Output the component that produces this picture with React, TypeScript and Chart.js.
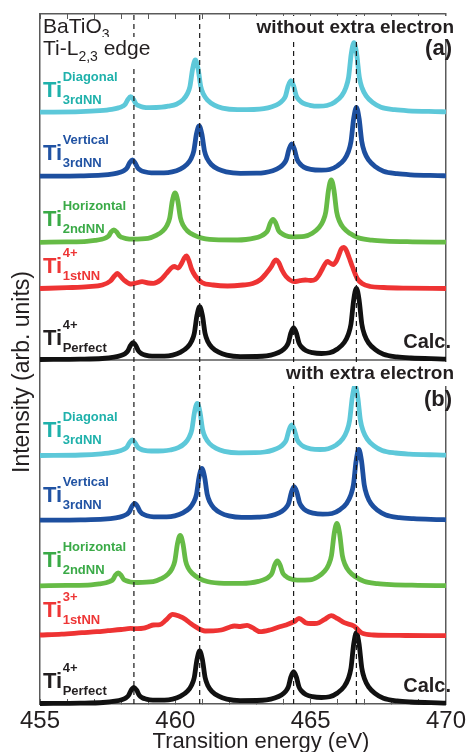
import React, { useEffect, useRef } from "react";
import { Chart, registerables } from "chart.js";

Chart.register(...registerables);

// ---------- data ----------
const xMin = 455;
const xMax = 470;
const xTickLabels = [455, 460, 465, 470];
const dashEnergies = [458.47, 460.9, 464.37, 466.69];
const panelSeparator = 344;
const yMax = 690;

// each series: [energy (eV), intensity above its own baseline]
const cyanA: [number, number][] = [
  [455, 0.5], [456.5, 1], [457.21, 2], [457.65, 3.3], [457.9, 4.8], [458.05, 6.4], [458.15, 8.5], [458.25, 13.4], [458.35, 16],
  [458.45, 13.4], [458.55, 8.7], [458.65, 7], [458.8, 5.6], [459.05, 5], [459.5, 5.5], [459.74, 6.5],
  [460.04, 8.5], [460.29, 13], [460.44, 18.8], [460.54, 26.3], [460.64, 44], [460.74, 52.7], [460.84, 44], [460.94, 26.3],
  [461.04, 18.4], [461.19, 12.5], [461.44, 7.5], [461.74, 4.5],
  [462.3, 3], [462.9, 3.2], [463.27, 4],
  [463.57, 6], [463.82, 8.9], [463.97, 12.4], [464.07, 16.6], [464.17, 26.8], [464.27, 32], [464.37, 26.8], [464.47, 16.8],
  [464.57, 12.8], [464.72, 9.6], [464.97, 7.4],
  [465.3, 6.5], [465.6, 7.2],
  [465.9, 10.8], [466.15, 17.1], [466.3, 25], [466.4, 35.2], [466.5, 58.8], [466.6, 70], [466.7, 58.8], [466.8, 35.2],
  [466.9, 24.8], [467.05, 16.8], [467.3, 10], [467.6, 5.4], [468.1, 3], [468.6, 1.9], [469.6, 1.1], [470, 0.9],
];
const blueA: [number, number][] = [
  [455, 0.5], [456.5, 0.8], [457.27, 1.5], [457.71, 2.8], [457.96, 4.4], [458.11, 6.2], [458.21, 8.6], [458.31, 13.9], [458.41, 16.7],
  [458.51, 13.9], [458.61, 8.8], [458.71, 6.5], [458.86, 4.9], [459.11, 3.9], [459.58, 3.9], [459.88, 4.8],
  [460.18, 7.6], [460.43, 12.3], [460.58, 18], [460.68, 25.4], [460.78, 42.6], [460.88, 50.7], [460.98, 42.6], [461.08, 25.4],
  [461.18, 17.9], [461.33, 12.2], [461.58, 7.5], [461.88, 4.8],
  [462.4, 3.4], [463.0, 3.5], [463.3, 4.1],
  [463.6, 6], [463.85, 9.1], [464.0, 12.7], [464.1, 17], [464.2, 27.4], [464.3, 32.7], [464.4, 27.4], [464.5, 17.3],
  [464.6, 13.1], [464.75, 9.6], [465.0, 7.3],
  [465.4, 6.5], [465.7, 7.2],
  [465.99, 10.8], [466.24, 17.1], [466.39, 24.8], [466.49, 35], [466.59, 58.3], [466.69, 69.4], [466.79, 58.3], [466.89, 35],
  [466.99, 24.6], [467.14, 16.8], [467.39, 10.1], [467.69, 5.5], [468.19, 3], [468.7, 1.9], [469.7, 1.1], [470, 0.9],
];
const greenA: [number, number][] = [
  [455, 0.5], [456, 0.9], [456.73, 1.5], [457.03, 2.4], [457.28, 3.6], [457.43, 5], [457.53, 6.6], [457.63, 10.9], [457.73, 13],
  [457.83, 10.9], [457.93, 6.9], [458.03, 5.4], [458.18, 4.2], [458.43, 3.6], [458.99, 4.4],
  [459.29, 7.4], [459.54, 11.9], [459.69, 17.3], [459.79, 24.5], [459.89, 42], [459.99, 50], [460.09, 42], [460.19, 24.8],
  [460.29, 17.5], [460.44, 12.1], [460.69, 7.6], [460.99, 4.6],
  [461.6, 2.9], [462.3, 2.8], [462.61, 3.3],
  [462.91, 4.6], [463.16, 6.7], [463.31, 9.2], [463.41, 12.2], [463.51, 19.8], [463.61, 23.5], [463.71, 19.8], [463.81, 12.5],
  [463.91, 9.7], [464.06, 7.4], [464.31, 6],
  [464.76, 6.4],
  [465.06, 9.6], [465.31, 15.2], [465.46, 22], [465.56, 31], [465.66, 52.8], [465.76, 63], [465.86, 52.8], [465.96, 31],
  [466.06, 21.8], [466.21, 15], [466.46, 9.2], [466.76, 5], [467.26, 2.7], [467.76, 1.7], [468.76, 1], [470, 0.6],
];
const redA: [number, number][] = [
  [455, 0], [456, 0.8], [456.8, 1.8], [457.3, 3.5], [457.6, 7.5], [457.75, 12.5], [457.85, 15], [457.95, 13], [458.1, 8.5],
  [458.35, 4.5], [458.55, 5.5], [458.77, 6.8], [459.0, 5.5], [459.19, 5.2], [459.45, 8.5], [459.67, 15], [459.85, 20.5],
  [459.96, 22], [460.1, 20.5], [460.24, 25.5], [460.33, 30.5], [460.41, 32.5], [460.5, 28], [460.6, 19.5], [460.74, 12.5],
  [460.98, 6], [461.4, 3.5], [461.93, 2.5], [462.5, 3.5], [462.86, 5], [463.15, 9], [463.34, 14.5], [463.55, 22], [463.65, 27],
  [463.73, 28.5], [463.82, 26], [463.95, 18], [464.09, 12], [464.39, 7], [464.6, 7.8], [464.81, 8.5], [465.0, 8],
  [465.17, 9], [465.3, 13], [465.41, 18.5], [465.52, 24], [465.62, 27], [465.72, 25.5], [465.83, 24], [465.95, 27.5],
  [466.05, 34], [466.13, 39.5], [466.22, 41], [466.31, 38.5], [466.42, 31], [466.54, 22], [466.72, 10], [466.9, 5],
  [467.2, 2], [467.7, 1], [468.5, 0.4], [470, 0],
];
const blackA: [number, number][] = [
  [455, 0.5], [456.5, 0.8], [457.3, 1.5], [457.74, 2.8], [457.99, 4.4], [458.14, 6.3], [458.24, 8.8], [458.34, 14.4], [458.44, 17.3],
  [458.54, 14.4], [458.64, 9], [458.74, 6.6], [458.89, 4.9], [459.14, 3.9], [459.6, 3.9], [459.9, 4.9],
  [460.2, 7.9], [460.45, 12.8], [460.6, 18.8], [460.7, 26.5], [460.8, 44.7], [460.9, 53.3], [461.0, 44.7], [461.1, 26.5],
  [461.2, 18.6], [461.35, 12.7], [461.6, 7.8], [461.9, 4.9],
  [462.4, 3.4], [463.0, 3.5], [463.37, 4.1],
  [463.67, 6], [463.92, 9], [464.07, 12.5], [464.17, 16.8], [464.27, 27.1], [464.37, 32.3], [464.47, 27.1], [464.57, 17],
  [464.67, 12.9], [464.82, 9.5], [465.07, 7.3],
  [465.4, 6.5], [465.7, 7.2],
  [465.99, 11], [466.24, 17.5], [466.39, 25.5], [466.49, 36], [466.59, 60.2], [466.69, 71.7], [466.79, 60.2], [466.89, 36],
  [466.99, 25.3], [467.14, 17.2], [467.39, 10.4], [467.69, 5.7], [468.19, 3.1], [468.7, 2], [469.7, 1.1], [470, 0.9],
];
const cyanB: [number, number][] = [
  [455, 0.5], [456.5, 1], [457.27, 2.2], [457.71, 3.6], [457.96, 5.2], [458.11, 6.8], [458.21, 8.8], [458.31, 13.4], [458.41, 16],
  [458.51, 13.4], [458.61, 8.9], [458.71, 7], [458.86, 5.6], [459.11, 5], [459.55, 5.2], [459.81, 6],
  [460.11, 8.3], [460.36, 13], [460.51, 18.8], [460.61, 26.3], [460.71, 44], [460.81, 52.7], [460.91, 44], [461.01, 26.2],
  [461.11, 18.4], [461.26, 12.5], [461.51, 7.6], [461.81, 4.7],
  [462.35, 3.2], [462.95, 3.3], [463.3, 4],
  [463.6, 5.9], [463.85, 8.8], [464.0, 12.1], [464.1, 16.2], [464.2, 26], [464.3, 31], [464.4, 26], [464.5, 16.4],
  [464.6, 12.5], [464.75, 9.3], [465.0, 7.2],
  [465.35, 6.5], [465.65, 7.3],
  [465.94, 10.9], [466.19, 17.3], [466.34, 25.2], [466.44, 35.6], [466.54, 59], [466.64, 70.3], [466.74, 59], [466.84, 35.5],
  [466.94, 25], [467.09, 16.9], [467.34, 10.2], [467.64, 5.6], [468.14, 3], [468.65, 1.9], [469.65, 1.1], [470, 0.9],
];
const blueB: [number, number][] = [
  [455, 0.5], [456.5, 0.8], [457.36, 1.5], [457.8, 2.8], [458.05, 4.4], [458.2, 6.3], [458.3, 8.8], [458.4, 14.4], [458.5, 17.3],
  [458.6, 14.4], [458.7, 9], [458.8, 6.6], [458.95, 4.9], [459.2, 3.9], [459.68, 3.9], [459.98, 4.9],
  [460.28, 7.9], [460.53, 12.7], [460.68, 18.6], [460.78, 26.2], [460.88, 43.9], [460.98, 52.3], [461.08, 43.9], [461.18, 26.2],
  [461.28, 18.4], [461.43, 12.6], [461.68, 7.7], [461.98, 4.9],
  [462.45, 3.4], [463.05, 3.6], [463.39, 4.2],
  [463.69, 6.2], [463.94, 9.4], [464.09, 13.1], [464.19, 17.6], [464.29, 28.5], [464.39, 34], [464.49, 28.5], [464.59, 17.9],
  [464.69, 13.5], [464.84, 9.9], [465.09, 7.5],
  [465.45, 6.5], [465.79, 7.2],
  [466.08, 11], [466.33, 17.4], [466.48, 25.4], [466.58, 35.8], [466.68, 59.9], [466.78, 71.3], [466.88, 59.9], [466.98, 35.8],
  [467.08, 25.2], [467.23, 17.1], [467.48, 10.3], [467.78, 5.7], [468.28, 3.1], [468.8, 2], [469.8, 1.1], [470, 0.9],
];
const greenB: [number, number][] = [
  [455, 0.5], [456, 0.9], [456.89, 1.5], [457.19, 2.4], [457.44, 3.6], [457.59, 5], [457.69, 6.7], [457.79, 11.2], [457.89, 13.3],
  [457.99, 11.2], [458.09, 7], [458.19, 5.5], [458.34, 4.3], [458.6, 3.8], [459.18, 4.6],
  [459.48, 7.6], [459.73, 12.2], [459.88, 17.7], [459.98, 25], [460.08, 42.8], [460.18, 51], [460.28, 42.8], [460.38, 25.4],
  [460.48, 18], [460.63, 12.8], [460.88, 8], [461.18, 4.8],
  [461.8, 3], [462.47, 2.9], [462.77, 3.4],
  [463.07, 4.9], [463.32, 7.1], [463.47, 9.8], [463.57, 13], [463.67, 21.3], [463.77, 25.3], [463.87, 21.3], [463.97, 13.3],
  [464.07, 10.3], [464.22, 7.8], [464.5, 6.2],
  [464.97, 6.4],
  [465.27, 9.6], [465.52, 15.2], [465.67, 22], [465.77, 31], [465.87, 52.8], [465.97, 63], [466.07, 52.8], [466.17, 31],
  [466.27, 21.8], [466.42, 15], [466.67, 9.2], [466.97, 5], [467.47, 2.7], [467.97, 1.7], [468.97, 1], [470, 0.6],
];
const redB: [number, number][] = [
  [455, 0.7], [455.8, 1.5], [456.55, 3], [457.1, 4], [457.51, 5], [458.0, 6.2], [458.35, 7.3], [458.6, 7], [458.83, 7.5],
  [459.0, 9], [459.19, 10.7], [459.43, 11], [459.65, 15.5], [459.9, 21.3], [460.15, 19.5], [460.38, 16.3], [460.55, 12.5],
  [460.74, 9], [461.1, 4.7], [461.4, 4.8], [461.7, 5.7], [462.0, 8.5], [462.18, 9.7], [462.4, 9.2], [462.65, 10.3],
  [462.85, 8], [463.13, 4], [463.49, 5.7], [463.8, 8.5], [464.09, 10.7], [464.39, 14], [464.57, 17.4], [464.81, 13],
  [465.0, 12.2], [465.23, 12.4], [465.5, 16], [465.76, 20], [466.0, 17], [466.24, 13], [466.6, 9.7], [466.75, 6],
  [466.9, 2.5], [467.32, 0.7], [468.5, 0.2], [470, 0],
];
const blackB: [number, number][] = [
  [455, 0.5], [456.5, 0.8], [457.33, 1.5], [457.77, 2.8], [458.02, 4.3], [458.17, 6.1], [458.27, 8.5], [458.37, 13.9], [458.47, 16.7],
  [458.57, 13.9], [458.67, 8.7], [458.77, 6.4], [458.92, 4.9], [459.17, 3.9], [459.6, 3.9], [459.9, 4.9],
  [460.2, 7.9], [460.45, 12.8], [460.6, 18.8], [460.7, 26.5], [460.8, 44.5], [460.9, 53], [461.0, 44.5], [461.1, 26.5],
  [461.2, 18.6], [461.35, 12.7], [461.6, 7.8], [461.9, 4.9],
  [462.4, 3.4], [463.0, 3.5], [463.37, 4.1],
  [463.67, 6], [463.92, 9], [464.07, 12.5], [464.17, 16.8], [464.27, 27.1], [464.37, 32.3], [464.47, 27.1], [464.57, 17],
  [464.67, 12.9], [464.82, 9.5], [465.07, 7.3],
  [465.4, 6.5], [465.7, 7.2],
  [465.99, 11], [466.24, 17.5], [466.39, 25.4], [466.49, 35.8], [466.59, 59.9], [466.69, 71.3], [466.79, 59.9], [466.89, 35.8],
  [466.99, 25.2], [467.14, 17.1], [467.39, 10.4], [467.69, 5.7], [468.19, 3.1], [468.7, 2], [469.7, 1.1], [470, 0.9],
];

const seriesList = [cyanA, blueA, greenA, redA, blackA, cyanB, blueB, greenB, redB, blackB];
// vertical stacking offset of each spectrum (same units as the y axis)
const baselines = [591.3, 527.3, 461.2, 415.5, 344, 248, 183.3, 117.7, 68.3, 0];
const supLabels = ["Diagonal", "Vertical", "Horizontal", "4+", "4+", "Diagonal", "Vertical", "Horizontal", "3+", "4+"];
const subLabels = ["3rdNN", "3rdNN", "2ndNN", "1stNN", "Perfect", "3rdNN", "3rdNN", "2ndNN", "1stNN", "Perfect"];

// ---------- styles ----------
const curveColors = ["#5dc8d9", "#1d4f9f", "#66bb46", "#ee3333", "#111111", "#5dc8d9", "#1d4f9f", "#66bb46", "#ee3333", "#111111"];
const labelColors = ["#1fb1ab", "#2153a3", "#3aaa47", "#ee3636", "#231f20", "#1fb1ab", "#2153a3", "#3aaa47", "#ee3636", "#231f20"];
const labelBaselinePx = [97, 160, 226, 273, 345, 437, 502, 567, 617, 688];

const FONT = "'Liberation Sans', Arial, Helvetica, sans-serif";
const INK = "#231f20";
const FRAME = "#5a5a5a";

const annotationPlugin = {
  id: "annotations",
  afterDatasetsDraw(chart: any) {
    const ctx: CanvasRenderingContext2D = chart.ctx;
    ctx.save();
    ctx.textBaseline = "alphabetic";

    const put = (t: string, x: number, y: number, font: string, color: string, align: CanvasTextAlign = "left") => {
      ctx.font = font;
      ctx.fillStyle = color;
      ctx.textAlign = align;
      ctx.fillText(t, x, y);
      ctx.textAlign = "left";
      return ctx.measureText(t).width;
    };

    // top-left material label
    let x = 43;
    x += put("BaTiO", x, 33, `21px ${FONT}`, INK);
    put("3", x, 39, `14px ${FONT}`, INK);

    // "Ti-L2,3 edge" with white background (masks dashed line)
    ctx.font = `21px ${FONT}`;
    const w1 = ctx.measureText("Ti-L").width;
    ctx.font = `14px ${FONT}`;
    const w2 = ctx.measureText("2,3").width;
    ctx.font = `21px ${FONT}`;
    const w3 = ctx.measureText(" edge").width;
    ctx.fillStyle = "#ffffff";
    ctx.fillRect(41, 37, w1 + w2 + w3 + 4, 28);
    x = 43;
    x += put("Ti-L", x, 55, `21px ${FONT}`, INK);
    x += put("2,3", x, 61, `14px ${FONT}`, INK);
    put(" edge", x, 55, `21px ${FONT}`, INK);

    // panel headers with white background
    const header = (t: string, base: number) => {
      ctx.font = `bold 19px ${FONT}`;
      const w = ctx.measureText(t).width;
      ctx.fillStyle = "#ffffff";
      ctx.fillRect(454 - w - 3, base - 17, w + 5, 24);
      put(t, 454, base, `bold 19px ${FONT}`, INK, "right");
    };
    header("without extra electron", 33);
    put("(a)", 452, 55, `bold 22px ${FONT}`, INK, "right");
    header("with extra electron", 379);
    put("(b)", 452, 406, `bold 22px ${FONT}`, INK, "right");
    put("Calc.", 451, 348, `bold 20px ${FONT}`, INK, "right");
    put("Calc.", 451, 692, `bold 20px ${FONT}`, INK, "right");

    // spectrum labels
    labelBaselinePx.forEach((b, i) => {
      const w = put("Ti", 43, b, `bold 22px ${FONT}`, labelColors[i]);
      put(supLabels[i], 43 + w + 0.5, b - 16, `bold 13px ${FONT}`, labelColors[i]);
      put(subLabels[i], 43 + w + 0.5, b + 7, `bold 13px ${FONT}`, labelColors[i]);
    });

    // axis titles
    put("Transition energy (eV)", 261, 748, `22px ${FONT}`, INK, "center");
    ctx.save();
    ctx.translate(23, 372);
    ctx.rotate(-Math.PI / 2);
    ctx.textBaseline = "middle";
    put("Intensity (arb. units)", 0, 0, `23px ${FONT}`, INK, "center");
    ctx.restore();

    ctx.restore();
  },
};

export default function App() {
  const canvasRef = useRef<HTMLCanvasElement>(null);

  useEffect(() => {
    if (!canvasRef.current) return;
    const datasets: any[] = [];

    dashEnergies.forEach((e) => {
      datasets.push({
        data: [{ x: e, y: 0 }, { x: e, y: yMax }],
        borderColor: "#1a1a1a",
        borderWidth: 1.2,
        borderDash: [5, 4],
        pointRadius: 0,
        tension: 0,
      });
    });

    seriesList.forEach((s, i) => {
      datasets.push({
        data: s.map(([e, h]) => ({ x: e, y: h + baselines[i] })),
        borderColor: curveColors[i],
        borderWidth: 4.8,
        pointRadius: 0,
        cubicInterpolationMode: "monotone",
        borderJoinStyle: "round",
        borderCapStyle: "butt",
        clip: false,
      });
    });

    datasets.push({
      data: [{ x: xMin, y: panelSeparator }, { x: xMax, y: panelSeparator }],
      borderColor: FRAME,
      borderWidth: 1.3,
      pointRadius: 0,
    });

    const tickGrid = {
      display: true,
      drawOnChartArea: false,
      drawTicks: true,
      tickLength: -5,
      tickColor: FRAME,
      tickWidth: 1,
    };

    const chart = new Chart(canvasRef.current, {
      type: "line",
      data: { datasets },
      options: {
        animation: false,
        responsive: true,
        maintainAspectRatio: false,
        events: [],
        layout: { padding: 0 },
        plugins: {
          legend: { display: false },
          tooltip: { enabled: false },
          title: { display: false },
        },
        scales: {
          x: {
            type: "linear",
            position: "bottom",
            min: xMin,
            max: xMax,
            ticks: {
              stepSize: 1,
              autoSkip: false,
              maxRotation: 0,
              padding: 8,
              color: INK,
              font: { family: FONT, size: 24 },
              callback: (v: any) => (xTickLabels.includes(Number(v)) ? String(v) : ""),
            },
            grid: tickGrid,
            border: { display: true, color: FRAME, width: 1.5 },
            afterFit: (s: any) => {
              s.height = 48;
            },
          },
          xTop: {
            type: "linear",
            position: "top",
            min: xMin,
            max: xMax,
            ticks: { stepSize: 1, autoSkip: false, display: false },
            grid: tickGrid,
            border: { display: true, color: FRAME, width: 1.5 },
            afterFit: (s: any) => {
              s.height = 14;
            },
          },
          y: {
            type: "linear",
            position: "left",
            min: 0,
            max: yMax,
            ticks: { display: false },
            grid: { display: false },
            border: { display: true, color: FRAME, width: 1.5 },
            afterFit: (s: any) => {
              s.width = 40;
            },
          },
          yRight: {
            type: "linear",
            position: "right",
            min: 0,
            max: yMax,
            ticks: { display: false },
            grid: { display: false },
            border: { display: true, color: FRAME, width: 1.5 },
            afterFit: (s: any) => {
              s.width = 16;
            },
          },
        },
      } as any,
      plugins: [annotationPlugin],
    });

    return () => chart.destroy();
  }, []);

  return (
    <div style={{ position: "fixed", left: 0, top: 0, width: 474, height: 752, background: "#ffffff" }}>
      <canvas ref={canvasRef} />
    </div>
  );
}
